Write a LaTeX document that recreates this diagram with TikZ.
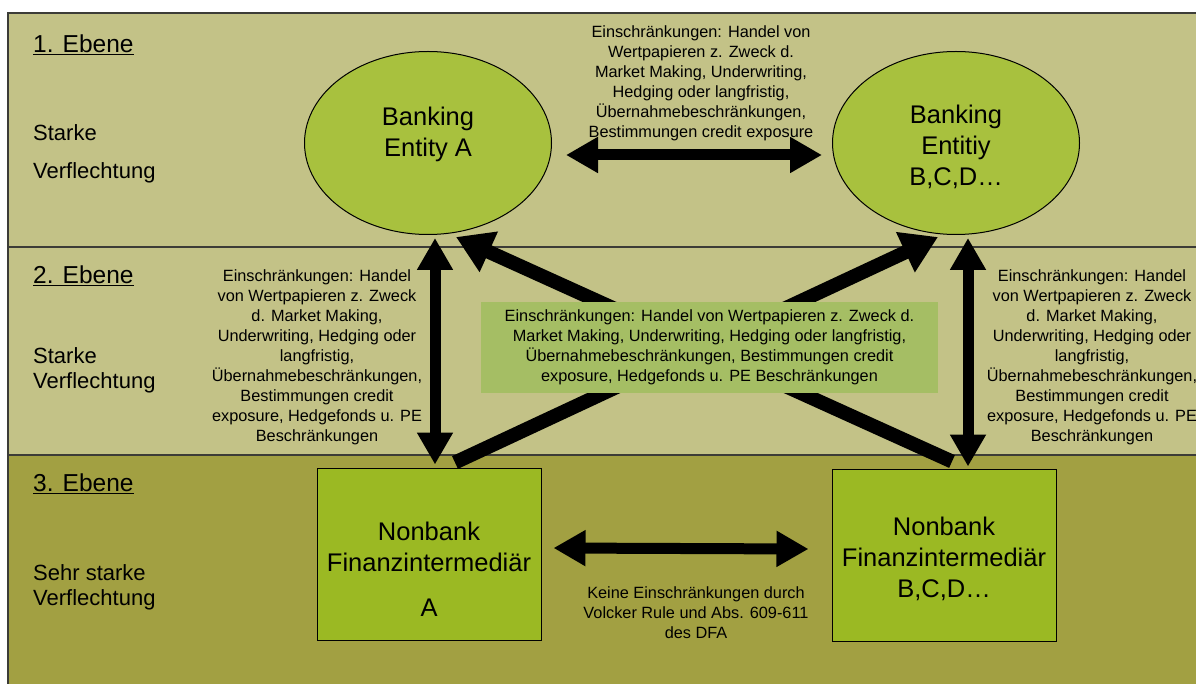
\documentclass[tikz,border=0pt]{standalone}
\usepackage{fontspec}
\setmainfont{Liberation Sans}
\usetikzlibrary{arrows.meta,shapes.geometric}
\definecolor{bandlight}{RGB}{195,194,135}
\definecolor{banddark}{RGB}{162,160,66}
\definecolor{bankfill}{RGB}{168,193,62}
\definecolor{nonbankfill}{RGB}{155,185,35}
\definecolor{notefill}{RGB}{165,190,100}
\definecolor{framegray}{RGB}{60,60,55}
\begin{document}
\begin{tikzpicture}[x=1pt,y=1pt,
  heading/.style={anchor=west,inner sep=0pt,font={\fontsize{24.5}{28}\selectfont}},
  sidelabel/.style={anchor=west,inner sep=0pt,font={\fontsize{22}{26}\selectfont}},
  bank/.style={ellipse,draw=black,line width=1pt,fill=bankfill,minimum width=247pt,minimum height=183pt,inner sep=0pt},
  nonbank/.style={rectangle,draw=black,line width=1pt,fill=nonbankfill,minimum width=224pt,minimum height=172pt,inner sep=0pt},
  bigtext/.style={align=center,inner sep=0pt,font={\fontsize{25.5}{31}\selectfont}},
  note/.style={align=center,inner sep=0pt,font={\fontsize{16.3}{20}\selectfont}},
  notebox/.style={note,fill=notefill,minimum width=457pt,minimum height=91pt},
  biarrow/.style={line width=11pt,{Triangle[length=32pt,width=34pt]}-{Triangle[length=32pt,width=34pt]}},
  diagarrow/.style={line width=14pt,-{Triangle[length=36pt,width=42pt]}}]
\useasboundingbox (0,0) rectangle (1196,-684);
\fill[white] (0,0) rectangle (1196,-684);
% three bands
\fill[bandlight] (8,-13) rectangle (1210,-455);
\fill[banddark] (8,-455) rectangle (1210,-700);
\draw[framegray,line width=2pt] (8,-247) -- (1210,-247);
\draw[framegray,line width=2pt] (8,-455) -- (1210,-455);
\draw[framegray,line width=1.5pt] (8,-13) rectangle (1210,-700);
% band titles and side labels
\node[heading] (h1) at (33,-45) {\underline{1. Ebene}};
\node[sidelabel] (s1a) at (33,-133) {Starke};
\node[sidelabel] (s1b) at (33,-173) {Verflechtung};
\node[heading] (h2) at (33,-276) {\underline{2. Ebene}};
\node[sidelabel] (s2a) at (33,-356) {Starke};
\node[sidelabel] (s2b) at (33,-383) {Verflechtung};
\node[heading] (h3) at (33,-484) {\underline{3. Ebene}};
\node[sidelabel] (s3a) at (33,-573) {Sehr starke};
\node[sidelabel] (s3b) at (33,-600) {Verflechtung};
% entities
\node[bank] (bA) at (428,-143) {};
\node[bank] (bB) at (956,-143) {};
\node[nonbank] (nA) at (429,-554) {};
\node[nonbank] (nB) at (944,-555) {};
\node[bigtext] (bAt) at (428,-134) {Banking\\Entity A};
\node[bigtext] (bBt) at (956,-147) {Banking\\Entitiy\\B,C,D…};
\node[bigtext] (nAt) at (429,-569) {Nonbank\\Finanzintermediär\\[14pt]A};
\node[bigtext] (nBt) at (944,-559) {Nonbank\\Finanzintermediär\\B,C,D…};
% connections
\draw[biarrow] ([shift={(14,-12)}]bA.east) -- ([shift={(-10,-12)}]bB.west);
\draw[biarrow] ([shift={(12,6)}]nA.east) -- ([shift={(-23,6)}]nB.west);
\draw[biarrow] ([shift={(7,-3)}]bA.south) -- ([shift={(6,3)}]nA.north);
\draw[biarrow] ([shift={(12,-3)}]bB.south) -- ([shift={(24,2)}]nB.north);
\draw[diagarrow] ([shift={(26,5)}]nA.north) -- ([shift={(-18,-2)}]bB.south);
\draw[diagarrow] ([shift={(8,7)}]nB.north) -- ([shift={(28,-2)}]bA.south);
% restriction notes
\node[note] (tn) at (701,-83) {Einschränkungen: Handel von\\Wertpapieren z. Zweck d.\\Market Making, Underwriting,\\Hedging oder langfristig,\\Übernahmebeschränkungen,\\Bestimmungen credit exposure};
\node[note] (ln) at (317,-357) {Einschränkungen: Handel\\von Wertpapieren z. Zweck\\d. Market Making,\\Underwriting, Hedging oder\\langfristig,\\Übernahmebeschränkungen,\\Bestimmungen credit\\exposure, Hedgefonds u. PE\\Beschränkungen};
\node[note] (rn) at (1092,-357) {Einschränkungen: Handel\\von Wertpapieren z. Zweck\\d. Market Making,\\Underwriting, Hedging oder\\langfristig,\\Übernahmebeschränkungen,\\Bestimmungen credit\\exposure, Hedgefonds u. PE\\Beschränkungen};
\node[notebox] (cn) at (709.5,-347.5) {Einschränkungen: Handel von Wertpapieren z. Zweck d.\\Market Making, Underwriting, Hedging oder langfristig,\\Übernahmebeschränkungen, Bestimmungen credit\\exposure, Hedgefonds u. PE Beschränkungen};
\node[note] (kn) at (696,-613) {Keine Einschränkungen durch\\Volcker Rule und Abs. 609-611\\des DFA};
\end{tikzpicture}
\end{document}
